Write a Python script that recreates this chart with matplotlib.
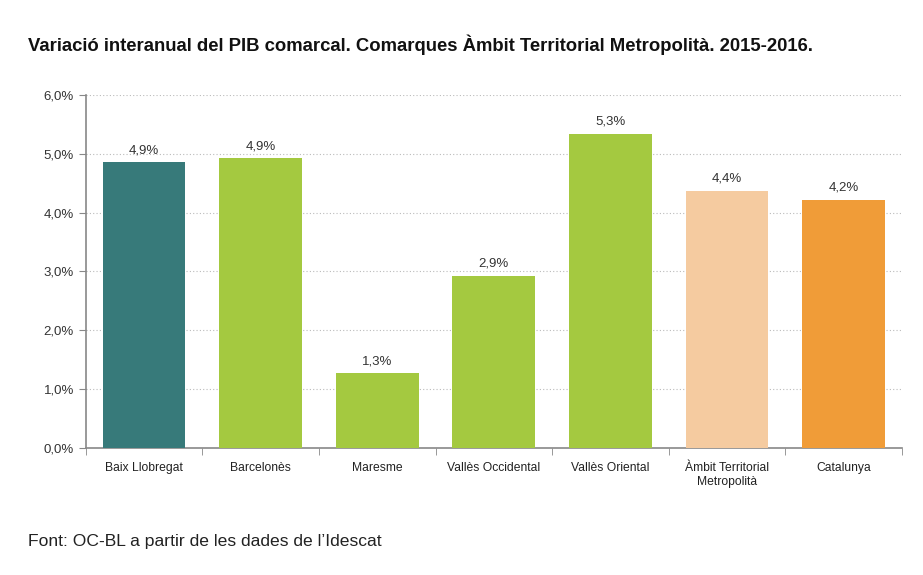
import matplotlib
matplotlib.use("Agg")
import matplotlib.pyplot as plt
from matplotlib.ticker import FuncFormatter

# Data
categories = ["Baix Llobregat", "Barcelonès", "Maresme", "Vallès Occidental",
              "Vallès Oriental", "Àmbit Territorial\nMetropolità", "Catalunya"]
values = [4.86, 4.92, 1.27, 2.93, 5.34, 4.37, 4.22]
labels = ["4,9%", "4,9%", "1,3%", "2,9%", "5,3%", "4,4%", "4,2%"]
colors = ["#377a7a", "#a4c940", "#a4c940", "#a4c940", "#a4c940", "#f5cba0", "#f09c38"]
yticks = [0, 1, 2, 3, 4, 5, 6]

plt.rcParams["font.family"] = ["Liberation Sans", "DejaVu Sans"]

fig = plt.figure(figsize=(9.23, 5.75), dpi=100)
ax = fig.add_axes([0.093, 0.221, 0.884, 0.614])

x = list(range(len(categories)))
ax.bar(x, values, width=0.71, color=colors, zorder=3)
for xi, v, lab in zip(x, values, labels):
    ax.text(xi, v + 0.1, lab, ha="center", va="bottom", fontsize=9.5, color="#333333")

ax.set_xlim(-0.5, len(categories) - 0.5)
ax.set_ylim(0, 6)
ax.set_yticks(yticks)
ax.yaxis.set_major_formatter(FuncFormatter(lambda v, p: f"{v:.1f}%".replace(".", ",")))
ax.set_xticks(x)
ax.set_xticklabels(categories, fontsize=8.7, color="#222222", linespacing=1.25)
ax.set_xticks([i + 0.5 for i in range(-1, len(categories))], minor=True)
ax.tick_params(axis="x", which="major", length=0, pad=10)
ax.tick_params(axis="x", which="minor", length=5, color="#888888")
ax.tick_params(axis="y", length=5, color="#888888", labelsize=9.5, labelcolor="#333333")

ax.grid(axis="y", linestyle=(0, (1, 2)), color="#bbbbbb", linewidth=0.8, zorder=0)
for s in ["top", "right"]:
    ax.spines[s].set_visible(False)
ax.spines["left"].set_color("#888888")
ax.spines["bottom"].set_color("#888888")
ax.spines["left"].set_linewidth(1.2)
ax.spines["bottom"].set_linewidth(1.2)

fig.text(0.030, 0.922, "Variació interanual del PIB comarcal. Comarques Àmbit Territorial Metropolità. 2015-2016.",
         fontsize=13.3, fontweight="bold", color="#111111", ha="left", va="center")
fig.text(0.030, 0.059, "Font: OC-BL a partir de les dades de l\u2019Idescat",
         fontsize=12.6, color="#222222", ha="left", va="center")

fig.savefig("out.png", dpi=100)
